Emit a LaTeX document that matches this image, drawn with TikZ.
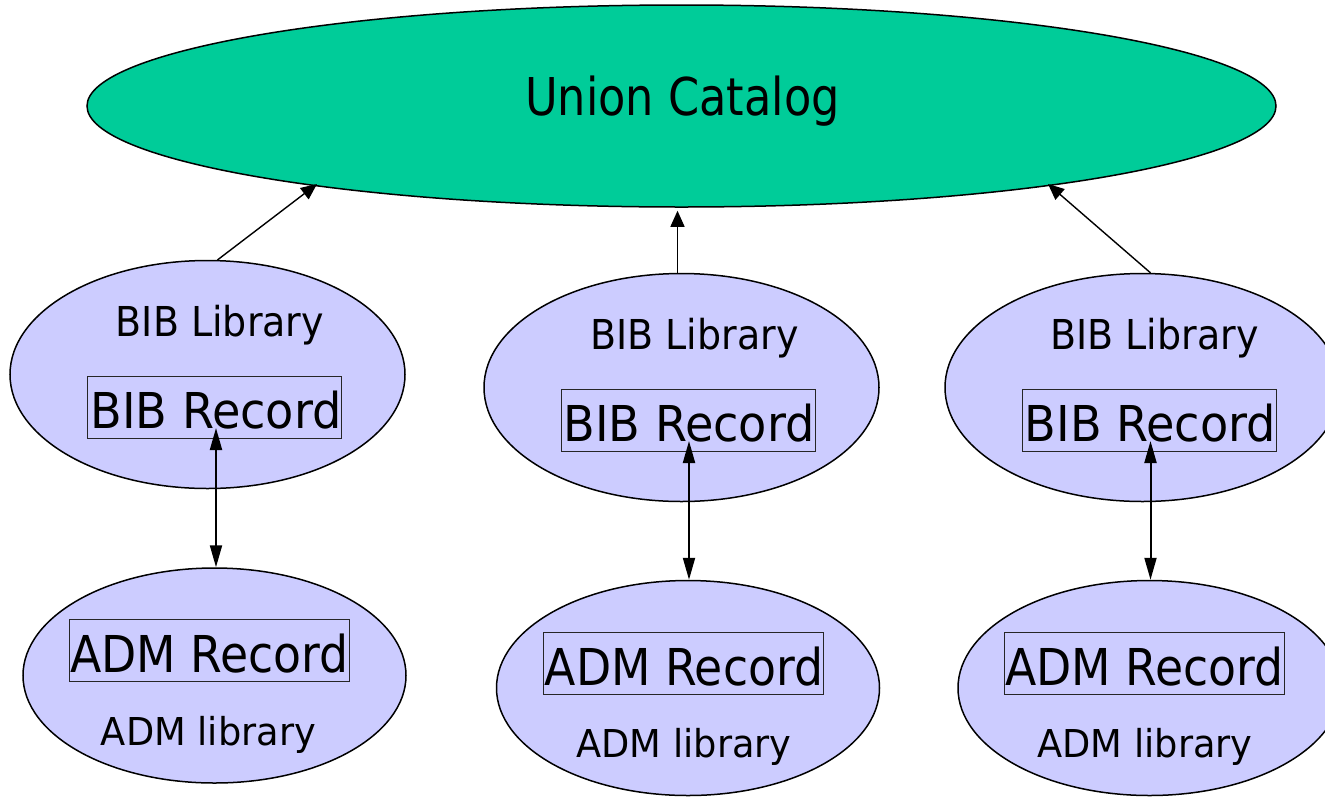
\documentclass[tikz,border=0pt]{standalone}
\usepackage{fontspec}
\setmainfont{DejaVu Sans}
\usetikzlibrary{shapes.geometric,arrows.meta,calc}
\definecolor{unigreen}{RGB}{0,204,153}
\definecolor{lav}{RGB}{204,204,255}
\begin{document}
\begin{tikzpicture}[x=1pt,y=-1pt,
  ell/.style={ellipse, draw=black, line width=1.5pt, inner sep=0pt},
  uni/.style={ell, fill=unigreen, minimum width=1189pt, minimum height=202pt},
  bib/.style={ell, fill=lav, minimum width=395pt, minimum height=228pt},
  adm/.style={ell, fill=lav, minimum width=383pt, minimum height=215pt},
  recbox/.style={draw=black!85, line width=1pt, inner sep=0pt, minimum height=62pt},
  bibbox/.style={recbox, minimum width=254pt},
  admbox/.style={recbox, minimum width=280pt},
  unitxt/.style={anchor=base, inner sep=0pt, font=\fontsize{52.1}{60}\selectfont},
  libtxt/.style={anchor=base, inner sep=0pt, font=\fontsize{41.2}{48}\selectfont},
  bibrtxt/.style={anchor=base, inner sep=0pt, font=\fontsize{49.4}{56}\selectfont},
  admrtxt/.style={anchor=base, inner sep=0pt, font=\fontsize{50.8}{58}\selectfont},
  admltxt/.style={anchor=base, inner sep=0pt, font=\fontsize{38.4}{44}\selectfont},
  uparrow/.style={-{Triangle[length=16pt,width=14pt]}, line width=1.4pt},
  dblarrow/.style={{Triangle[length=22pt,width=12pt]}-{Triangle[length=22pt,width=12pt]}, line width=2pt}
]
\useasboundingbox (0,0) rectangle (1325,796);

% Union catalog
\node[uni] (union) at (681.5,106) {};
\node[unitxt] (unitext) at (682.5,115) {\scalebox{0.857}[1]{Union Catalog}};
\coordinate (tipL) at ($(union.center)+(-364.5,78)$);
\coordinate (tipR) at ($(union.center)+(366.5,78)$);

% BIB libraries
\node[bib] (bib1) at (207.5,374.5) {};
\node[bib] (bib2) at (681.5,387.5) {};
\node[bib] (bib3) at (1142.5,387.5) {};
\node[libtxt] (bl1) at (220,336) {\scalebox{0.922}[1]{BIB Library}};
\node[libtxt] (bl2) at (694.5,349) {\scalebox{0.922}[1]{BIB Library}};
\node[libtxt] (bl3) at (1154.5,349) {\scalebox{0.922}[1]{BIB Library}};
\node[bibbox] (bb1) at (214,407) {};
\node[bibbox] (bb2) at (688,420) {};
\node[bibbox] (bb3) at (1149,420) {};
\node[bibrtxt] (br1) at (216,428) {\scalebox{0.935}[1]{BIB Record}};
\node[bibrtxt] (br2) at (689,441) {\scalebox{0.935}[1]{BIB Record}};
\node[bibrtxt] (br3) at (1150.5,441) {\scalebox{0.935}[1]{BIB Record}};

% ADM libraries
\node[adm] (adm1) at (214.5,675.5) {};
\node[adm] (adm2) at (688,688) {};
\node[adm] (adm3) at (1149.5,688) {};
\node[admbox] (ab1) at (209,650) {};
\node[admbox] (ab2) at (683,663) {};
\node[admbox] (ab3) at (1144,663) {};
\node[admrtxt] (ar1) at (209.5,672) {\scalebox{0.90}[1]{ADM Record}};
\node[admrtxt] (ar2) at (684,685) {\scalebox{0.90}[1]{ADM Record}};
\node[admrtxt] (ar3) at (1144.5,685) {\scalebox{0.90}[1]{ADM Record}};
\node[admltxt] (al1) at (208.5,745) {\scalebox{0.957}[1]{ADM library}};
\node[admltxt] (al2) at (684,757) {\scalebox{0.957}[1]{ADM library}};
\node[admltxt] (al3) at (1145,757) {\scalebox{0.957}[1]{ADM library}};

% connectors to union catalog
\draw[uparrow] (bib1.85) -- (tipL);
\draw[uparrow, shorten >=3pt] (bib2.92) -- (bib2.92 |- union.south);
\draw[uparrow] (bib3.86) -- (tipR);

% BIB <-> ADM
\draw[dblarrow] (br1.base) -- (br1.base |- adm1.north);
\draw[dblarrow] (br2.base) -- (br2.base |- adm2.north);
\draw[dblarrow] (br3.base) -- (br3.base |- adm3.north);
\end{tikzpicture}
\end{document}
